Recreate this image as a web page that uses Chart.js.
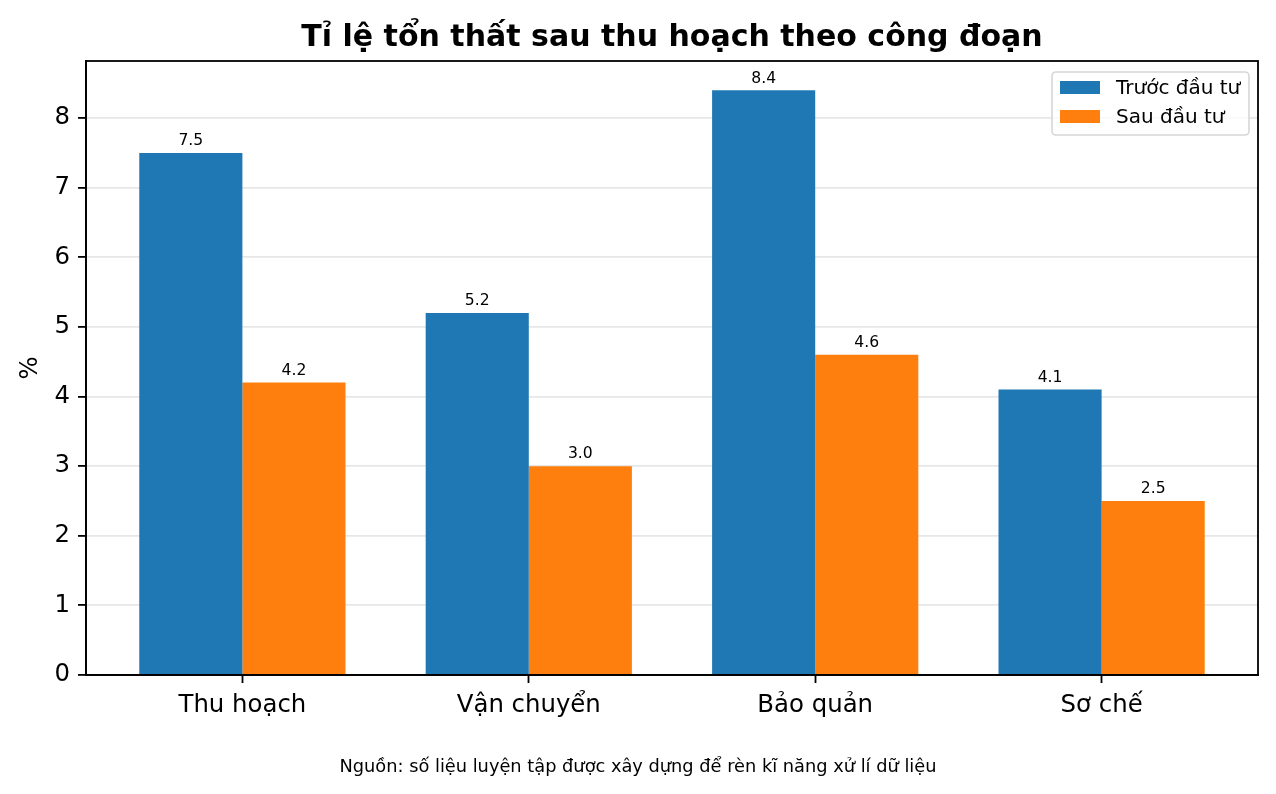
<!doctype html>
<html lang="vi">
<head>
  <meta charset="utf-8">
  <title>Tỉ lệ tổn thất sau thu hoạch theo công đoạn</title>
  <script src="https://cdn.jsdelivr.net/npm/chart.js@4/dist/chart.umd.min.js"></script>
  <style>
    html, body { margin: 0; padding: 0; background: #fff; }
    #wrap { width: 1276px; height: 794px; position: relative; }
  </style>
</head>
<body>
<div id="wrap"><canvas id="chart"></canvas></div>
<script>
  // số liệu
  const categories = ['Thu hoạch', 'Vận chuyển', 'Bảo quản', 'Sơ chế'];
  const truocDauTu = [7.5, 5.2, 8.4, 4.1];
  const sauDauTu = [4.2, 3.0, 4.6, 2.5];
  const yTicks = [0, 1, 2, 3, 4, 5, 6, 7, 8];
  const nguon = 'Nguồn: số liệu luyện tập được xây dựng để rèn kĩ năng xử lí dữ liệu';

  const FONT = "'DejaVu Sans', sans-serif";
  Chart.defaults.font.family = FONT;
  Chart.defaults.color = '#000';

  // khung trục 4 cạnh, nhãn giá trị trên cột, chú giải, dòng nguồn
  const extras = {
    id: 'extras',
    afterDatasetsDraw(chart) {
      const ctx = chart.ctx;
      ctx.save();
      ctx.font = '15.6px ' + FONT;
      ctx.fillStyle = '#000';
      ctx.textAlign = 'center';
      ctx.textBaseline = 'alphabetic';
      chart.data.datasets.forEach((ds, di) => {
        chart.getDatasetMeta(di).data.forEach((bar, i) => {
          ctx.fillText(ds.data[i].y.toFixed(1), bar.x, bar.y - 7.7);
        });
      });
      ctx.restore();
    },
    afterDraw(chart) {
      const ctx = chart.ctx, a = chart.chartArea;
      ctx.save();
      ctx.strokeStyle = '#000';
      ctx.lineWidth = 1.8;
      ctx.strokeRect(a.left, a.top, a.right - a.left, a.bottom - a.top);

      // chú giải
      const bx = a.right - 206, by = a.top + 11, bw = 197, bh = 63;
      ctx.beginPath();
      ctx.roundRect(bx, by, bw, bh, 4);
      ctx.fillStyle = 'rgba(255,255,255,0.8)';
      ctx.fill();
      ctx.strokeStyle = '#d6d6d6';
      ctx.lineWidth = 1.6;
      ctx.stroke();
      ctx.font = '20px ' + FONT;
      ctx.textAlign = 'left';
      ctx.textBaseline = 'middle';
      chart.data.datasets.forEach((ds, di) => {
        const cy = by + 15.5 + di * 29;
        ctx.fillStyle = ds.backgroundColor;
        ctx.fillRect(bx + 8, cy - 6.5, 40, 13);
        ctx.fillStyle = '#000';
        ctx.fillText(ds.label, bx + 64, cy + 1);
      });

      // nguồn số liệu, căn giữa theo cả hình
      ctx.font = '17.8px ' + FONT;
      ctx.textAlign = 'center';
      ctx.textBaseline = 'alphabetic';
      ctx.fillText(nguon, chart.width / 2, 772);
      ctx.restore();
    }
  };

  new Chart(document.getElementById('chart').getContext('2d'), {
    type: 'bar',
    data: {
      datasets: [
        {
          label: 'Trước đầu tư',
          data: truocDauTu.map((v, i) => ({x: i, y: v})),
          backgroundColor: '#1f77b4'
        },
        {
          label: 'Sau đầu tư',
          data: sauDauTu.map((v, i) => ({x: i, y: v})),
          backgroundColor: '#ff7f0e'
        }
      ]
    },
    options: {
      responsive: true,
      maintainAspectRatio: false,
      devicePixelRatio: 1,
      animation: false,
      categoryPercentage: 0.72,
      barPercentage: 1.0,
      layout: {padding: {left: 0, right: 18, top: 0, bottom: 0}},
      plugins: {
        tooltip: {enabled: false},
        legend: {display: false},
        title: {
          display: true,
          fullSize: false,
          text: 'Tỉ lệ tổn thất sau thu hoạch theo công đoạn',
          font: {size: 30, weight: 'bold'},
          lineHeight: 1.2,
          padding: {top: 20, bottom: 5},
          color: '#000'
        }
      },
      scales: {
        x: {
          type: 'linear',
          min: -0.546,
          max: 3.546,
          offset: false,
          afterBuildTicks: s => { s.ticks = categories.map((c, i) => ({value: i})); },
          afterFit: s => { s.height = 119; },
          ticks: {
            autoSkip: false,
            maxRotation: 0,
            padding: 8,
            font: {size: 24.4},
            callback: v => categories[v]
          },
          grid: {offset: false, drawOnChartArea: false, tickLength: 8, tickColor: '#000', tickWidth: 1.8},
          border: {display: true, color: '#000', width: 1.8}
        },
        y: {
          min: 0,
          max: 8.82,
          afterBuildTicks: s => { s.ticks = yTicks.map(v => ({value: v})); },
          afterFit: s => { s.width = 86; },
          ticks: {padding: 8, font: {size: 24.4}},
          title: {display: true, text: '%', font: {size: 24.4}, padding: {top: 16, bottom: 0}},
          grid: {color: 'rgba(176,176,176,0.3)', lineWidth: 1.8, tickLength: 8, tickColor: '#000', tickWidth: 1.8},
          border: {display: true, color: '#000', width: 1.8}
        }
      }
    },
    plugins: [extras]
  });
</script>
</body>
</html>
